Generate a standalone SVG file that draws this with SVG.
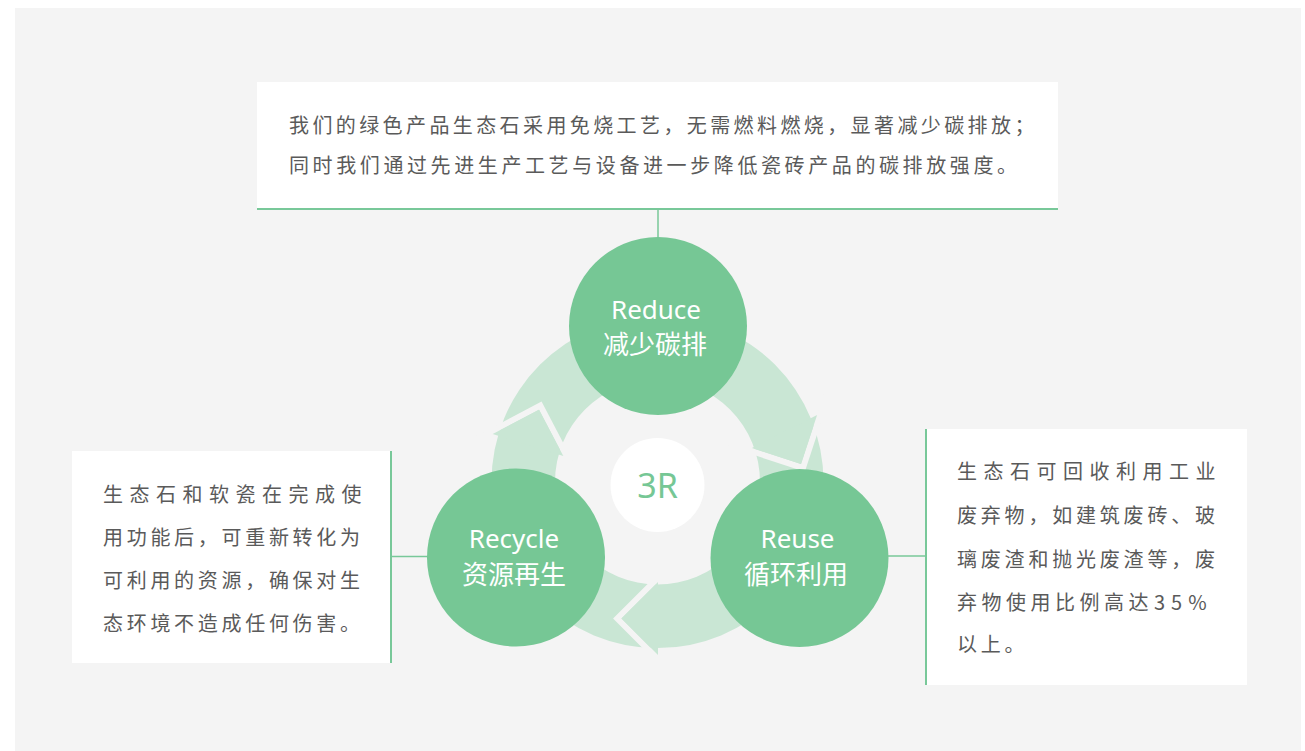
<svg xmlns="http://www.w3.org/2000/svg" width="1305" height="751" viewBox="0 0 1305 751">
<style>
.panel{fill:#F4F4F4}
.box{fill:#FFFFFF}
.edge{fill:#78C899}
.ring{fill:#C9E6D4}
.gap{fill:none;stroke:#F4F4F4;stroke-width:6;stroke-linejoin:miter}
.node{fill:#76C795}
.body{font-family:"Noto Sans CJK SC","Noto Sans",sans-serif;font-size:20px;fill:#5A5A5A}
.en{font-family:"Noto Sans","Noto Sans CJK SC",sans-serif;font-size:26px;fill:#FFFFFF;text-anchor:middle}
.cn{font-family:"Noto Sans CJK SC",sans-serif;font-size:26px;fill:#FFFFFF;text-anchor:middle}
.line{stroke:#78C899;stroke-width:1.5;fill:none}
</style>
<rect x="0" y="0" width="1305" height="751" fill="#FFFFFF"/>
<rect class="panel" x="15" y="8" width="1286" height="743"/>

<g id="cycle">
<path class="ring" fill-rule="evenodd" d="M 491.5 482 A 166 166 0 1 0 823.5 482 A 166 166 0 1 0 491.5 482 Z M 555 482 A 102.5 102.5 0 1 0 760 482 A 102.5 102.5 0 1 0 555 482 Z"/>
<polyline class="gap" points="827.1,394.2 802.9,467.9 729.2,443.7"/>
<polyline class="gap" points="672,673.3 617.3,618.5 672,563.8"/>
<polyline class="gap" points="470.9,442.2 540.3,405.6 576.7,475.2"/>
<polygon class="ring" points="751.9,448 817.1,415 801,464.1"/>
<polygon class="ring" points="658,582 658,655 621.5,618.5"/>
<polygon class="ring" points="492.7,434 563.3,456 539,409.7"/>
</g>

<g id="connectors">
<line class="line" x1="658" y1="210" x2="658" y2="238"/>
<line class="line" x1="392" y1="556.5" x2="428" y2="556.5"/>
<line class="line" x1="887" y1="556" x2="925" y2="556"/>
</g>

<g id="top-box">
<rect class="box" x="257" y="82" width="801" height="128"/>
<rect class="edge" x="257" y="208" width="801" height="2"/>
<text class="body" x="289" y="133" letter-spacing="3.4">我们的绿色产品生态石采用免烧工艺，无需燃料燃烧，显著减少碳排放；</text>
<text class="body" x="289" y="173" letter-spacing="3.6">同时我们通过先进生产工艺与设备进一步降低瓷砖产品的碳排放强度。</text>
</g>

<g id="left-box">
<rect class="box" x="72" y="451" width="319" height="212"/>
<rect class="edge" x="390" y="451" width="2" height="212"/>
<text class="body" x="103" y="502" letter-spacing="6.5">生态石和软瓷在完成使</text>
<text class="body" x="103" y="545" letter-spacing="3.7">用功能后，可重新转化为</text>
<text class="body" x="103" y="588" letter-spacing="3.7">可利用的资源，确保对生</text>
<text class="body" x="103" y="631" letter-spacing="3.7">态环境不造成任何伤害。</text>
</g>

<g id="right-box">
<rect class="box" x="926" y="429" width="321" height="256"/>
<rect class="edge" x="925" y="429" width="2" height="256"/>
<text class="body" x="957" y="479" letter-spacing="6.5">生态石可回收利用工业</text>
<text class="body" x="957" y="523" letter-spacing="3.8">废弃物，如建筑废砖、玻</text>
<text class="body" x="957" y="567" letter-spacing="3.8">璃废渣和抛光废渣等，废</text>
<text class="body" x="957" y="610" letter-spacing="4.5">弃物使用比例高达</text>
<text class="body" x="1154" y="610" font-size="21" letter-spacing="6">35%</text>
<text class="body" x="957" y="652" letter-spacing="3.8">以上。</text>
</g>

<g id="reduce">
<circle class="node" cx="658" cy="326" r="89"/>
<text class="en" x="656" y="319">Reduce</text>
<text class="cn" x="655" y="354">减少碳排</text>
</g>

<g id="recycle">
<circle class="node" cx="516" cy="557.5" r="89"/>
<text class="en" x="514" y="548">Recycle</text>
<text class="cn" x="514" y="584">资源再生</text>
</g>

<g id="reuse">
<circle class="node" cx="799.5" cy="558" r="89"/>
<text class="en" x="797.5" y="548">Reuse</text>
<text class="cn" x="796" y="584">循环利用</text>
</g>

<g id="center">
<circle cx="657.5" cy="485" r="47" fill="#FFFFFF"/>
<text x="657.5" y="498" font-family="Noto Sans, sans-serif" font-size="34" fill="#76C795" text-anchor="middle">3R</text>
</g>
</svg>
